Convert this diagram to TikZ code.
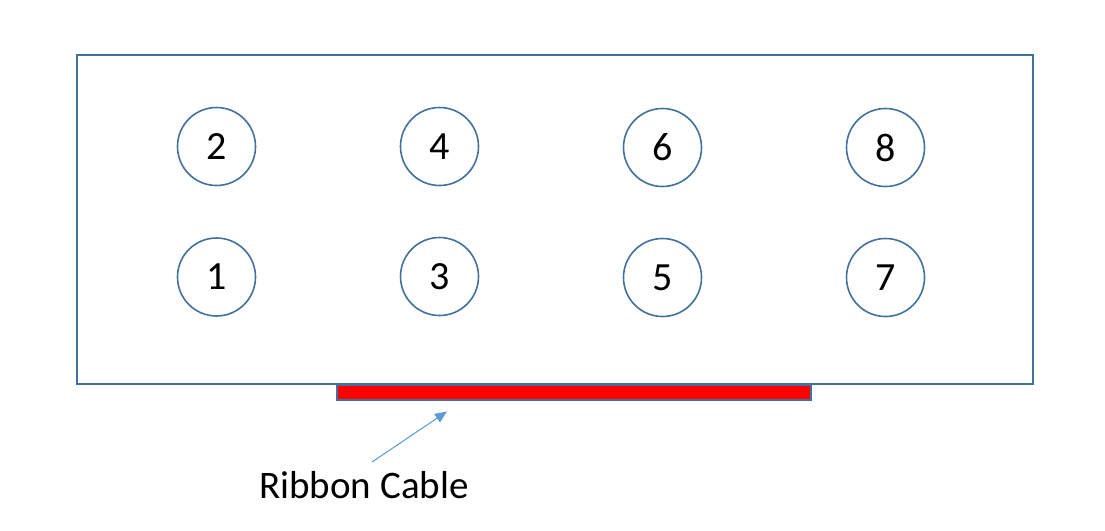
\documentclass[tikz,border=0pt]{standalone}
\usepackage{xcolor}
\usepackage{fontspec}
\setmainfont{Carlito}
\usepackage{tikz}
\usetikzlibrary{shapes,arrows,arrows.meta,positioning,calc}

\definecolor{edgeblue}{HTML}{41719C}
\definecolor{arrowblue}{HTML}{5B9BD5}
\definecolor{cablered}{HTML}{FF0000}

\begin{document}
\begin{tikzpicture}[x=1pt, y=-1pt]
  % Styles
  \tikzstyle{board} = [rectangle, draw=edgeblue, line width=1.8pt, fill=white, minimum width=956pt, minimum height=329pt, inner sep=0pt]
  \tikzstyle{pin} = [circle, draw=edgeblue, line width=1.6pt, minimum size=78pt, inner sep=0pt, font=\fontsize{40}{44}\selectfont]
  \tikzstyle{ribbon} = [rectangle, draw=edgeblue, line width=1.6pt, fill=cablered, minimum width=474pt, minimum height=15pt, inner sep=0pt]
  \tikzstyle{pointer} = [-{Triangle[length=12pt,width=10pt]}, draw=arrowblue, fill=arrowblue, line width=1pt]
  \tikzstyle{caption} = [font=\fontsize{39}{44}\selectfont, inner sep=0pt]

  \useasboundingbox (0,0) rectangle (1105,530);

  % Board outline
  \node[board] (board) at (555,219.5) {};

  % Top row of pins
  \node[pin] (p2) at (216.5,146.5) {2};
  \node[pin] (p4) at (439.5,146.5) {4};
  \node[pin] (p6) at (662.5,147.5) {6};
  \node[pin] (p8) at (885.5,147.5) {8};

  % Bottom row of pins
  \node[pin] (p1) at (216.5,277) {1};
  \node[pin] (p3) at (439.5,276.5) {3};
  \node[pin] (p5) at (662.5,277.5) {5};
  \node[pin] (p7) at (885.5,277.5) {7};

  % Ribbon cable
  \node[ribbon] (ribbon) at (574,392.5) {};

  % Label and pointer
  \node[caption, anchor=base] (label) at (364,498) {Ribbon Cable};
  \coordinate (tail) at (372,462);
  \coordinate (tip) at (447,411.5);
  \draw[pointer] (tail) -- (tip);

\end{tikzpicture}
\end{document}
